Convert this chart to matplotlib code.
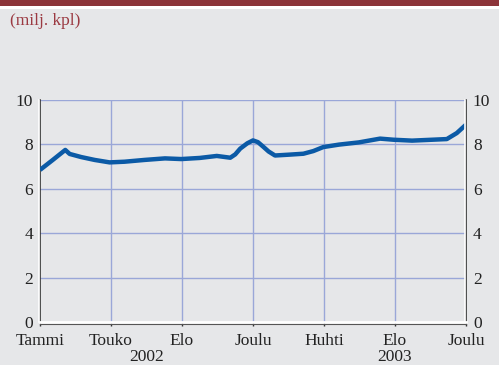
import matplotlib
matplotlib.use("Agg")
import matplotlib.pyplot as plt

# series, x in label-interval units (0 = Tammi 2002, 6 = Joulu 2003)
pos = [0.0, 0.18, 0.356, 0.418, 0.58, 0.77, 0.98, 1.19, 1.47, 1.76, 1.99,
       2.25, 2.49, 2.68, 2.75, 2.82, 2.92, 3.0, 3.07, 3.15, 3.22, 3.31, 3.52,
       3.71, 3.85, 3.99, 4.21, 4.49, 4.79, 4.98, 5.24, 5.52, 5.73, 5.87, 6.0]
vals = [6.85, 7.3, 7.75, 7.57, 7.43, 7.3, 7.19, 7.22, 7.3, 7.37, 7.34,
        7.39, 7.48, 7.4, 7.55, 7.81, 8.05, 8.18, 8.1, 7.88, 7.68, 7.5, 7.54,
        7.58, 7.7, 7.88, 7.99, 8.09, 8.26, 8.21, 8.17, 8.21, 8.24, 8.51, 8.89]

tick_pos = [0, 1, 2, 3, 4, 5, 6]
tick_labels = ["Tammi", "Touko", "Elo", "Joulu", "Huhti", "Elo", "Joulu"]
years = ["2002", "2003"]
year_pos = [1.5, 5.0]
yticks = [0, 2, 4, 6, 8, 10]

bg = "#e6e7e9"
grid_c = "#9aa7d8"
line_c = "#0b5aa6"
red = "#8c3439"
serif = "Liberation Serif"

fig = plt.figure(figsize=(4.99, 3.65), dpi=100, facecolor=bg)

# header band
fig.patches.append(plt.Rectangle((0, 1 - 6 / 365), 1, 6 / 365, transform=fig.transFigure,
                                 facecolor=red, edgecolor="none"))
fig.patches.append(plt.Rectangle((0, 1 - 8.5 / 365), 1, 2.5 / 365, transform=fig.transFigure,
                                 facecolor="white", edgecolor="none"))
fig.text(10 / 499, 1 - 21 / 365, "(milj. kpl)", color="#9b3a42", family=serif,
         fontsize=12.5, va="center", ha="left")

ax = fig.add_axes([40 / 499, 43 / 365, 426 / 499, 222 / 365])
ax.set_facecolor(bg)
ax.set_xlim(0, 6)
ax.set_ylim(0, 10)

for y in yticks[1:]:
    ax.axhline(y, color=grid_c, lw=1, zorder=1)
for x in tick_pos[1:-1]:
    ax.axvline(x, color=grid_c, lw=1, zorder=1)

ax.plot(pos, vals, color=line_c, lw=3.2, solid_joinstyle="round",
        solid_capstyle="butt", zorder=3)

ax.spines["top"].set_visible(False)
ax.spines["left"].set_color("#333333")
ax.spines["right"].set_color("#333333")
ax.spines["left"].set_linewidth(1.2)
ax.spines["right"].set_linewidth(1.2)
ax.spines["bottom"].set_color("white")
ax.spines["bottom"].set_linewidth(2)
# thin white edge beside the side spines and dark edge under the base line
ax.plot([-0.012, -0.012], [0, 10], color="white", lw=1.2, clip_on=False, zorder=4)
ax.plot([5.988, 5.988], [0, 10], color="white", lw=1.2, clip_on=False, zorder=4)
ax.plot([0, 6], [-0.1, -0.1], color="#555555", lw=0.8, clip_on=False, zorder=4)

ax.set_xticks(tick_pos)
ax.set_xticklabels(tick_labels, family=serif, fontsize=12.5, color="#222222")
ax.tick_params(axis="x", direction="out", length=3, width=1, color="#333333", pad=5)
ax.set_yticks(yticks)
ax.set_yticklabels([str(v) for v in yticks], family=serif, fontsize=12.5, color="#222222")
ax.tick_params(axis="y", length=0, pad=5, labelleft=True, labelright=True)

for yr, xp in zip(years, year_pos):
    ax.text(xp, -0.122, yr, transform=ax.get_xaxis_transform(), ha="center", va="top",
            family=serif, fontsize=12.5, color="#222222")

fig.savefig("out.png", dpi=100, facecolor=bg)
